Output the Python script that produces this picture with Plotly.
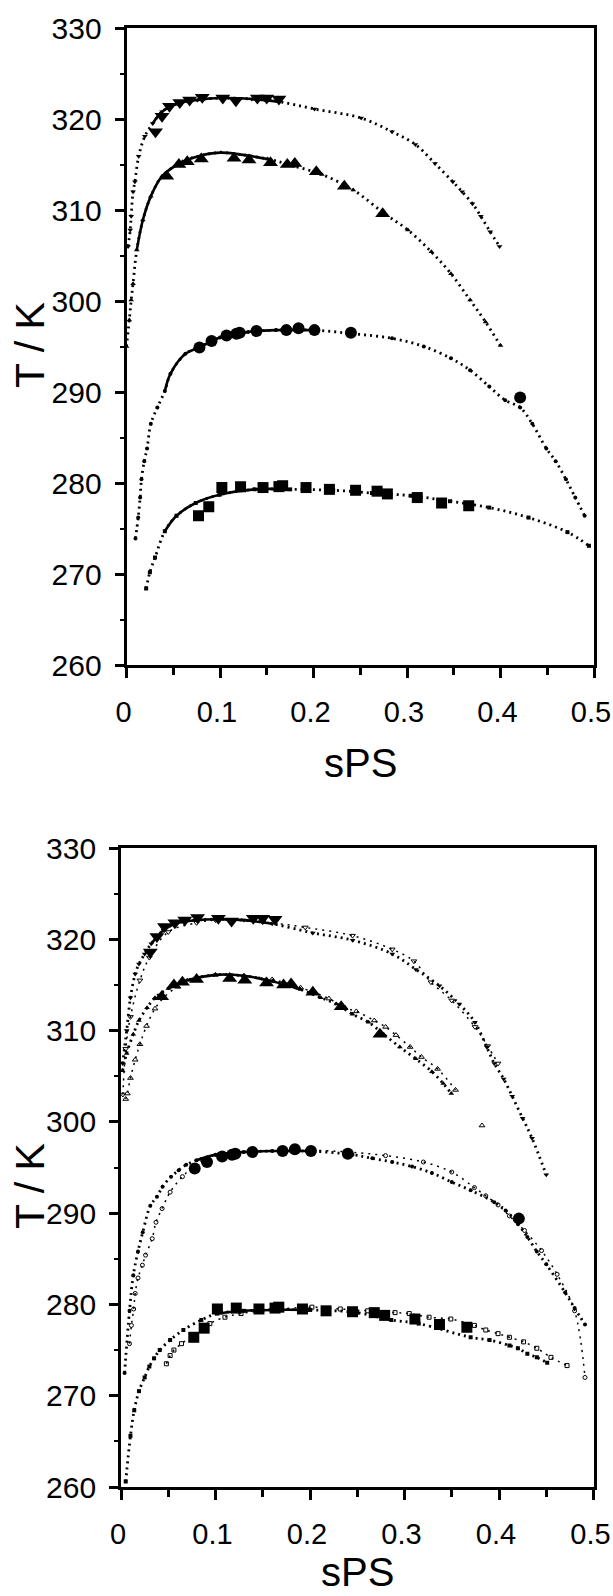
import plotly.graph_objects as go

# ---------------- experimental data (same in both panels) ----------------
exp1_x = [0.031, 0.038, 0.046, 0.057, 0.0675, 0.081, 0.103, 0.117, 0.140, 0.150, 0.163]
exp1_T = [318.6, 320.3, 321.4, 321.8, 322.1, 322.4, 322.3, 322.0, 322.3, 322.3, 322.2]

exp2_x = [0.043, 0.056, 0.065, 0.080, 0.115, 0.131, 0.154, 0.172, 0.180, 0.203, 0.233, 0.274]
exp2_T = [313.7, 315.0, 315.3, 315.6, 315.7, 315.5, 315.2, 315.0, 315.1, 314.2, 312.6, 309.6]

exp3_x = [0.078, 0.091, 0.107, 0.1175, 0.121, 0.139, 0.171, 0.184, 0.201, 0.240, 0.421]
exp3_T = [294.9, 295.6, 296.2, 296.4, 296.5, 296.7, 296.8, 297.0, 296.8, 296.5, 289.4]

exp4_x = [0.077, 0.088, 0.102, 0.122, 0.146, 0.163, 0.167, 0.192, 0.217, 0.245, 0.268, 0.279, 0.311, 0.337, 0.366]
exp4_T = [276.4, 277.4, 279.5, 279.6, 279.5, 279.6, 279.7, 279.5, 279.3, 279.2, 279.1, 278.8, 278.4, 277.8, 277.5]

# ---------------- top panel model curves ----------------
top1_x = [0.0017, 0.004, 0.005, 0.007, 0.009, 0.013, 0.0196, 0.028, 0.038, 0.055, 0.076, 0.101, 0.134, 0.163,
          0.201, 0.251, 0.284, 0.309, 0.33, 0.349, 0.359, 0.37, 0.379, 0.389, 0.399]
top1_T = [306.0, 307.8, 309.3, 312.0, 313.1, 315.9, 318.1, 319.5, 320.8, 321.7, 322.1, 322.3, 322.2, 321.9,
          321.1, 320.1, 318.6, 317.2, 315.1, 313.1, 312.0, 310.7, 309.3, 307.6, 306.0]

top2_x = [0.0, 0.003, 0.005, 0.007, 0.011, 0.0175, 0.026, 0.038, 0.06, 0.08, 0.101, 0.151, 0.18, 0.209,
          0.2425, 0.276, 0.301, 0.326, 0.347, 0.3675, 0.384, 0.4]
top2_T = [295.0, 297.9, 300.1, 301.9, 305.6, 308.9, 311.5, 313.7, 315.3, 316.0, 316.3, 315.6, 314.8, 313.9,
          312.2, 309.6, 307.8, 305.4, 303.0, 300.1, 297.7, 295.1]

top3_x = [0.0096, 0.0125, 0.0146, 0.016, 0.019, 0.022, 0.026, 0.033, 0.041, 0.047, 0.063, 0.078, 0.1, 0.13,
          0.16, 0.2, 0.2425, 0.284, 0.318, 0.347, 0.3675, 0.388, 0.405, 0.421, 0.434, 0.449, 0.459, 0.470,
          0.480, 0.49]
top3_T = [273.9, 276.2, 278.4, 280.4, 282.4, 283.8, 286.5, 288.3, 290.1, 292.0, 294.2, 294.9, 296.0, 296.6,
          296.8, 296.8, 296.4, 295.9, 295.0, 293.7, 292.4, 290.6, 289.1, 288.3, 286.5, 283.8, 282.4, 280.4,
          278.4, 276.4]

top4_x = [0.021, 0.025, 0.0305, 0.041, 0.0535, 0.074, 0.0995, 0.137, 0.175, 0.221, 0.2625, 0.304, 0.346,
          0.388, 0.43, 0.4716, 0.4946]
top4_T = [268.4, 270.2, 271.8, 274.7, 276.4, 277.8, 278.7, 279.3, 279.3, 279.2, 278.9, 278.6, 278.0,
          277.3, 276.2, 274.6, 273.1]

# ---------------- bottom panel model curves (filled = model A, open = model B) ----------------
botA1_x = [0.0017, 0.006, 0.010, 0.015, 0.019, 0.025, 0.032, 0.045, 0.06, 0.08, 0.1, 0.13, 0.16, 0.203, 0.245,
           0.287, 0.312, 0.337, 0.358, 0.3746, 0.387, 0.395, 0.405, 0.414, 0.425, 0.435, 0.45]
botA1_T = [306.4, 310.0, 313.6, 316.2, 317.3, 318.4, 319.5, 321.0, 321.8, 322.1, 322.2, 322.1, 321.7, 320.7, 319.9,
           318.4, 316.7, 314.9, 312.9, 310.9, 308.2, 306.4, 304.7, 302.8, 300.4, 298.2, 294.2]
botB1_x = [0.002, 0.005, 0.01, 0.02, 0.03, 0.05, 0.08, 0.1, 0.15, 0.195, 0.245, 0.287, 0.31, 0.328, 0.35,
           0.3746, 0.388, 0.399]
botB1_T = [303.0, 308.0, 311.5, 315.5, 318.0, 320.8, 321.8, 322.1, 321.9, 321.3, 320.4, 318.9, 317.6, 315.3, 313.3,
           310.4, 308.3, 306.4]

botA2_x = [0.0017, 0.006, 0.013, 0.019, 0.0276, 0.036, 0.05, 0.07, 0.1, 0.13, 0.16, 0.19, 0.2115, 0.228, 0.245,
           0.262, 0.278, 0.295, 0.312, 0.329, 0.341, 0.3495]
botA2_T = [305.6, 307.5, 309.6, 311.1, 312.5, 313.6, 314.6, 315.5, 316.1, 316.0, 315.4, 314.5, 313.6, 312.9, 311.8,
           310.9, 309.6, 308.2, 306.9, 305.5, 304.2, 303.1]
botB2_x = [0.005, 0.0067, 0.01, 0.015, 0.02, 0.027, 0.036, 0.045, 0.06, 0.08, 0.1, 0.13, 0.16, 0.19, 0.22, 0.237,
           0.249, 0.268, 0.28, 0.291, 0.306, 0.318, 0.335, 0.354, 0.382]
botB2_T = [302.5, 303.1, 304.8, 306.8, 308.5, 310.5, 312.4, 313.6, 314.8, 315.7, 316.1, 316.0, 315.6, 314.7, 313.5,
           312.5, 312.1, 311.1, 310.4, 309.5, 308.2, 307.1, 305.8, 303.5, 299.6]

botA3_x = [0.0038, 0.009, 0.013, 0.018, 0.023, 0.031, 0.038, 0.044, 0.053, 0.061, 0.069, 0.08, 0.1, 0.13, 0.16,
           0.2, 0.245, 0.266, 0.287, 0.308, 0.329, 0.35, 0.37, 0.395, 0.407, 0.42, 0.43, 0.44, 0.45, 0.47, 0.48,
           0.491]
botA3_T = [272.5, 279.3, 283.2, 285.8, 287.9, 290.8, 291.8, 292.9, 294.0, 294.7, 295.3, 295.8, 296.4, 296.7, 296.8,
           296.8, 296.4, 296.0, 295.6, 295.1, 294.4, 293.4, 292.5, 291.2, 290.3, 288.8, 287.4, 285.8, 284.4, 281.3,
           279.6, 277.8]
botB3_x = [0.009, 0.011, 0.0134, 0.015, 0.018, 0.0226, 0.026, 0.033, 0.037, 0.0435, 0.052, 0.065, 0.086, 0.11,
           0.14, 0.17, 0.2, 0.24, 0.28, 0.32, 0.35, 0.374, 0.386, 0.399, 0.411, 0.427, 0.445, 0.4615, 0.48, 0.491]
botB3_T = [275.7, 277.7, 279.5, 281.2, 282.9, 284.3, 285.4, 287.2, 289.0, 290.5, 292.3, 294.0, 295.8, 296.4,
           296.7, 296.9, 296.9, 296.7, 296.3, 295.6, 294.5, 292.8, 291.9, 290.9, 289.7, 288.1, 285.9, 283.3,
           279.3, 272.0]

botA4_x = [0.005, 0.01, 0.014, 0.019, 0.025, 0.03, 0.035, 0.041, 0.052, 0.066, 0.085, 0.102, 0.13, 0.16, 0.2,
           0.25, 0.286, 0.315, 0.37, 0.39, 0.411, 0.42, 0.43, 0.44, 0.451]
botA4_T = [260.6, 265.6, 268.4, 270.5, 272.0, 273.2, 274.1, 275.0, 276.1, 277.2, 278.3, 279.0, 279.3, 279.4, 279.4,
           279.1, 278.3, 277.9, 276.4, 276.1, 275.5, 275.2, 274.6, 274.2, 273.6]
botB4_x = [0.048, 0.052, 0.056, 0.064, 0.077, 0.094, 0.11, 0.127, 0.16, 0.202, 0.232, 0.261, 0.29, 0.305, 0.326,
           0.349, 0.374, 0.386, 0.399, 0.411, 0.426, 0.44, 0.455, 0.472]
botB4_T = [273.5, 274.4, 275.0, 275.7, 276.6, 277.9, 278.6, 279.0, 279.4, 279.7, 279.5, 279.3, 279.1, 279.0, 278.6,
           278.4, 277.7, 277.2, 276.8, 276.4, 275.9, 275.2, 274.2, 273.3]

# ranges (sPS) where the model curves appear as a solid line
top_solid = [(0.028, 0.2), (0.011, 0.16), (0.035, 0.2), (0.035, 0.2)]
bot_solid = [(0.03, 0.2), (0.04, 0.2), (0.08, 0.2), (0.1, 0.2)]
# last sPS reached by the dotted chain of the open (model B) curves
bot_open_chain_end = [0.4, 0.36, 0.5, 0.5]

x_ticks = [0, 0.1, 0.2, 0.3, 0.4, 0.5]
x_ticktext = ["0", "0.1", "0.2", "0.3", "0.4", "0.5"]
x_minor = [0.05, 0.15, 0.25, 0.35, 0.45]
y_ticks = [260, 270, 280, 290, 300, 310, 320, 330]
y_minor = [265, 275, 285, 295, 305, 315, 325]

FONT = "Arial, Liberation Sans, Helvetica, sans-serif"
BLACK = "#000000"

symbols = ["triangle-down", "triangle-up", "circle", "square"]
exp_sizes = [13, 13, 12, 11]
small_sizes = [5, 5, 4, 4]

exp_sets = [(exp1_x, exp1_T), (exp2_x, exp2_T), (exp3_x, exp3_T), (exp4_x, exp4_T)]
top_models = [(top1_x, top1_T), (top2_x, top2_T), (top3_x, top3_T), (top4_x, top4_T)]
botA = [(botA1_x, botA1_T), (botA2_x, botA2_T), (botA3_x, botA3_T), (botA4_x, botA4_T)]
botB = [(botB1_x, botB1_T), (botB2_x, botB2_T), (botB3_x, botB3_T), (botB4_x, botB4_T)]

fig = go.Figure()


def add_model(xs, ts, sym, size, ax, ay, solid=None, open_=False, chain_end=1.0):
    cx = [x for x in xs if x <= chain_end]
    ct = [t for x, t in zip(xs, ts) if x <= chain_end]
    fig.add_trace(go.Scatter(
        x=cx, y=ct, mode="lines", xaxis=ax, yaxis=ay, line_shape="spline",
        line=dict(color=BLACK, width=2.8 if not open_ else 1.5, dash="2px,4px" if not open_ else "2px,5px"),
        hoverinfo="skip", showlegend=False))
    fig.add_trace(go.Scatter(
        x=xs, y=ts, mode="markers", xaxis=ax, yaxis=ay,
        marker=dict(symbol=sym + ("-open" if open_ else ""), size=size, color=BLACK,
                    line=dict(color=BLACK, width=1 if open_ else 0)),
        hoverinfo="skip", showlegend=False))
    if solid is not None:
        sx = [x for x in xs if solid[0] <= x <= solid[1]]
        st = [t for x, t in zip(xs, ts) if solid[0] <= x <= solid[1]]
        fig.add_trace(go.Scatter(
            x=sx, y=st, mode="lines", xaxis=ax, yaxis=ay, line_shape="spline",
            line=dict(color=BLACK, width=2.6), hoverinfo="skip", showlegend=False))


def add_exp(ax, ay):
    for (ex, et), sym, sz in zip(exp_sets, symbols, exp_sizes):
        fig.add_trace(go.Scatter(
            x=ex, y=et, mode="markers", xaxis=ax, yaxis=ay,
            marker=dict(symbol=sym, size=sz, color=BLACK, line=dict(width=0)),
            hoverinfo="skip", showlegend=False))


# top panel
for (mx, mt), sym, sz, sol in zip(top_models, symbols, small_sizes, top_solid):
    add_model(mx, mt, sym, sz, "x", "y", solid=sol)
add_exp("x", "y")

# bottom panel
for (mx, mt), sym, sz, ce in zip(botB, symbols, small_sizes, bot_open_chain_end):
    add_model(mx, mt, sym, sz, "x2", "y2", open_=True, chain_end=ce)
for (mx, mt), sym, sz, sol in zip(botA, symbols, small_sizes, bot_solid):
    add_model(mx, mt, sym, sz, "x2", "y2", solid=sol)
add_exp("x2", "y2")

W, H = 613, 1596


def xdom(l, r):
    return [l / W, r / W]


def ydom(top, bottom):
    return [1 - bottom / H, 1 - top / H]


xaxis_common = dict(
    range=[0, 0.5], tickmode="array", tickvals=x_ticks, ticktext=x_ticktext,
    ticks="outside", ticklen=10, tickwidth=2.5, tickcolor=BLACK,
    showline=True, linewidth=2.8, linecolor=BLACK, mirror=True,
    showgrid=False, zeroline=False,
    tickfont=dict(family=FONT, size=29, color=BLACK),
    ticklabelstandoff=9, ticklabelshift=-3, ticklabeloverflow="allow",
    minor=dict(tickvals=x_minor, ticks="outside", ticklen=7, tickwidth=2.5, tickcolor=BLACK, showgrid=False),
    automargin=False,
)
yaxis_common = dict(
    range=[260, 330], tickmode="array", tickvals=y_ticks,
    ticks="outside", ticklen=9, tickwidth=2.5, tickcolor=BLACK,
    showline=True, linewidth=2.8, linecolor=BLACK, mirror=True,
    showgrid=False, zeroline=False,
    tickfont=dict(family=FONT, size=30, color=BLACK),
    ticklabelstandoff=7, ticklabeloverflow="allow",
    minor=dict(tickvals=y_minor, ticks="outside", ticklen=4, tickwidth=2, tickcolor=BLACK, showgrid=False),
    automargin=False,
)

fig.update_layout(
    width=W, height=H, autosize=False,
    margin=dict(l=0, r=0, t=0, b=0),
    paper_bgcolor="white", plot_bgcolor="white",
    showlegend=False,
    xaxis=dict(xaxis_common, domain=xdom(126.5, 594), anchor="y"),
    yaxis=dict(yaxis_common, domain=ydom(28, 665), anchor="x"),
    xaxis2=dict(xaxis_common, domain=xdom(121, 593.5), anchor="y2"),
    yaxis2=dict(yaxis_common, domain=ydom(848, 1487), anchor="x2"),
    annotations=[
        dict(text="T / K", x=30 / W, y=1 - 345 / H, xref="paper", yref="paper", textangle=-90,
             showarrow=False, xanchor="center", yanchor="middle", font=dict(family=FONT, size=41, color=BLACK)),
        dict(text="sPS", x=360 / W, y=1 - 763 / H, xref="paper", yref="paper",
             showarrow=False, xanchor="center", yanchor="middle", font=dict(family=FONT, size=40, color=BLACK)),
        dict(text="T / K", x=30 / W, y=1 - 1186 / H, xref="paper", yref="paper", textangle=-90,
             showarrow=False, xanchor="center", yanchor="middle", font=dict(family=FONT, size=41, color=BLACK)),
        dict(text="sPS", x=357 / W, y=1 - 1572 / H, xref="paper", yref="paper",
             showarrow=False, xanchor="center", yanchor="middle", font=dict(family=FONT, size=40, color=BLACK)),
    ],
)

fig.write_html("out.html")
